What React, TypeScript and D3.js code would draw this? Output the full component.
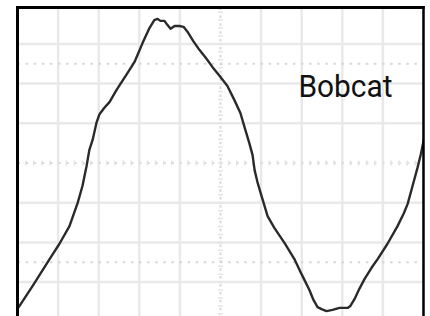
import React from 'react';
import { scaleLinear, line, range, curveLinear } from 'd3';

// trace, x = time in divisions, y = amplitude in divisions
const timeDiv = [
  -0.05, 0.05, 0.37, 0.79, 1.03, 1.28, 1.48, 1.6, 1.7, 1.77, 1.85, 1.95, 2.02, 2.14, 2.27,
  2.44, 2.68, 2.88, 3.08, 3.25, 3.37, 3.45, 3.52, 3.62, 3.69, 3.77, 3.87, 3.99, 4.09, 4.19,
  4.33, 4.48, 4.66, 4.8, 4.98, 5.17, 5.34, 5.49, 5.59, 5.71, 5.79, 5.84, 5.91, 6.01, 6.16,
  6.33, 6.58, 6.82, 6.95, 7.07, 7.19, 7.29, 7.39, 7.49, 7.61, 7.76, 7.93, 8.13, 8.2, 8.3,
  8.42, 8.55, 8.72, 8.87, 9.11, 9.36, 9.51, 9.61, 9.73, 9.85, 9.93, 10.0, 10.05,
];
const amplitudeDiv = [
  -3.73, -3.6, -3.1, -2.42, -2.04, -1.59, -1.01, -0.58, -0.08, 0.33, 0.58, 1.03, 1.23, 1.39, 1.54,
  1.84, 2.22, 2.54, 3.02, 3.4, 3.6, 3.63, 3.58, 3.58, 3.48, 3.38, 3.45, 3.45, 3.43, 3.3,
  3.07, 2.85, 2.62, 2.42, 2.19, 1.94, 1.59, 1.26, 0.91, 0.5, 0.2, -0.18, -0.48, -0.83, -1.34,
  -1.64, -2.02, -2.42, -2.7, -2.95, -3.2, -3.45, -3.63, -3.68, -3.73, -3.7, -3.65, -3.65, -3.6, -3.43,
  -3.17, -2.92, -2.64, -2.42, -2.04, -1.59, -1.28, -1.03, -0.58, -0.13, 0.2, 0.55, 0.76,
];

// grid divisions
const xGrid = range(0, 11);
const yGrid = range(-4, 5);
const dottedY = [-2.5, 0, 2.5];
const dottedX = [5];

const label = 'Bobcat';
const labelPos = { t: 6.92, a: 1.66 };

const width = 430;
const height = 316;

const App = () => {
  const x = scaleLinear().domain([0, 10]).range([17.5, 423.5]);
  const y = scaleLinear().domain([-4, 4]).range([321.8, 4.2]);

  const pts = timeDiv.map((t, i) => [t, amplitudeDiv[i]] as [number, number]);
  const path = line<[number, number]>()
    .x((d) => x(d[0]))
    .y((d) => y(d[1]))
    .curve(curveLinear)(pts);

  const top = 7.5;
  const bottom = 340;

  // little ticks on the centre lines
  const minor = range(-5, 5.01, 0.2);

  return (
    <svg
      width={width}
      height={height}
      style={{ position: 'absolute', left: 0, top: 0, background: '#fff' }}
    >
      <defs>
        <clipPath id="plot">
          <rect x={x(0)} y={top} width={x(10) - x(0)} height={bottom - top} />
        </clipPath>
      </defs>
      <g clipPath="url(#plot)">
        {xGrid
          .filter((d) => !dottedX.includes(d))
          .map((d) => (
            <line key={'vx' + d} x1={x(d)} x2={x(d)} y1={top} y2={bottom} stroke="#e9e9e9" strokeWidth={2.5} />
          ))}
        {yGrid
          .filter((d) => !dottedY.includes(d))
          .map((d) => (
            <line key={'hy' + d} x1={x(0)} x2={x(10)} y1={y(d)} y2={y(d)} stroke="#e9e9e9" strokeWidth={2.5} />
          ))}
        {dottedY.map((d) => (
          <line
            key={'dy' + d}
            x1={x(0)}
            x2={x(10)}
            y1={y(d)}
            y2={y(d)}
            stroke="#d6d6d6"
            strokeWidth={2}
            strokeDasharray="2.5,5.6"
          />
        ))}
        {dottedX.map((d) => (
          <line
            key={'dx' + d}
            x1={x(d)}
            x2={x(d)}
            y1={top}
            y2={bottom}
            stroke="#d6d6d6"
            strokeWidth={2}
            strokeDasharray="2.5,5.4"
          />
        ))}
        {minor.map((m, i) => (
          <line key={'mx' + i} x1={x(5) - 2.5} x2={x(5) + 2.5} y1={y(m)} y2={y(m)} stroke="#e4e4e4" strokeWidth={1.5} />
        ))}
        {minor.map((m, i) => (
          <line key={'my' + i} x1={x(m + 5)} x2={x(m + 5)} y1={y(0) - 2.5} y2={y(0) + 2.5} stroke="#e4e4e4" strokeWidth={1.5} />
        ))}
        <path d={path || ''} fill="none" stroke="#2a2a2a" strokeWidth={2.4} strokeLinejoin="round" />
      </g>
      <text
        x={x(labelPos.t)}
        y={y(labelPos.a)}
        fontFamily="Roboto, 'Liberation Sans', sans-serif"
        fontSize={31}
        textLength={94}
        lengthAdjust="spacingAndGlyphs"
        fill="#111"
      >
        {label}
      </text>
      {/* screen frame */}
      <line x1={x(0)} x2={x(0)} y1={top - 1.5} y2={bottom} stroke="#000" strokeWidth={3} />
      <line x1={x(0) - 1.5} x2={x(10) + 1.25} y1={top} y2={top} stroke="#000" strokeWidth={3} />
      <line x1={x(10)} x2={x(10)} y1={top - 1.5} y2={bottom} stroke="#000" strokeWidth={2.5} />
    </svg>
  );
};

export default App;
